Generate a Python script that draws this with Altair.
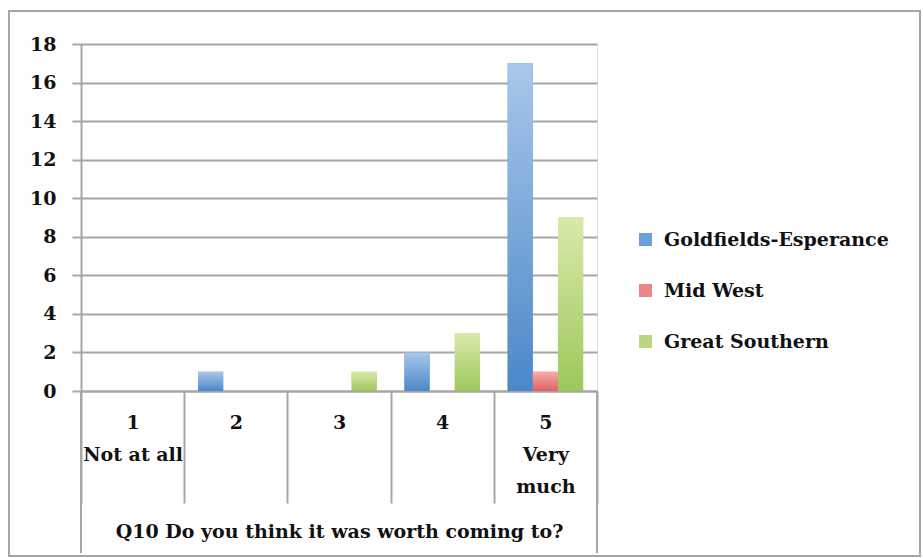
import altair as alt
import pandas as pd

categories = ["1|Not at all", "2", "3", "4", "5|Very|much"]
series = ["Goldfields-Esperance", "Mid West", "Great Southern"]
goldfields = [0, 1, 0, 2, 17]
mid_west = [0, 0, 0, 0, 1]
great_southern = [0, 0, 1, 3, 9]
y_ticks = [0, 2, 4, 6, 8, 10, 12, 14, 16, 18]
x_title = "Q10 Do you think it was worth coming to?"

solid = ["#6a9fd8", "#ec8585", "#b9d77e"]
grad_stops = [("#a9c7ea", "#4a88c8"), ("#f6abab", "#e06262"), ("#d9e9aa", "#9cc85b")]

rows = []
for s, vals in zip(series, [goldfields, mid_west, great_southern]):
    for c, v in zip(categories, vals):
        rows.append({"cat": c, "series": s, "value": v})
df = pd.DataFrame(rows)
df = df[df["value"] > 0]

FONT = "DejaVu Serif"
FS = 19
GRAY = "#a6a6a6"
TXT = "#111111"
W, H = 516, 347


def grad(top, bottom):
    return {"gradient": "linear", "x1": 0, "y1": 0, "x2": 0, "y2": 1,
            "stops": [{"offset": 0, "color": top}, {"offset": 1, "color": bottom}]}


x_scale = alt.Scale(domain=categories, paddingInner=0, paddingOuter=0)
x_axis = alt.Axis(
    title=x_title, tickBand="extent", tickSize=112, tickColor=GRAY, tickWidth=2,
    domainColor=GRAY, domainWidth=2, labelAngle=0,
    labelExpr="split(datum.label, '|')", labelLineHeight=32, labelPadding=-90,
    labelFont=FONT, labelFontSize=FS, labelFontWeight="bold", labelColor=TXT,
    labelBaseline="top",
    titleFont=FONT, titleFontSize=FS, titleFontWeight="bold", titleColor=TXT,
    titlePadding=18,
)
xo_scale = alt.Scale(domain=series, paddingInner=0, paddingOuter=0.55)
y_axis = alt.Axis(values=y_ticks, title=None, grid=True, gridColor=GRAY, gridWidth=2,
                  tickSize=9, tickColor=GRAY, tickWidth=2, domainColor=GRAY, domainWidth=2,
                  labelFont=FONT, labelFontSize=FS, labelFontWeight="bold",
                  labelColor=TXT, labelPadding=16)
y_scale = alt.Scale(domain=[0, 18])

base = alt.Chart(df)

bars_legend = base.mark_bar().encode(
    x=alt.X("cat:N", sort=categories, scale=x_scale, axis=x_axis),
    xOffset=alt.XOffset("series:N", sort=series, scale=xo_scale),
    y=alt.Y("value:Q", scale=y_scale, axis=y_axis),
    color=alt.Color("series:N", sort=series,
                    scale=alt.Scale(domain=series, range=solid),
                    legend=alt.Legend(title=None, orient="none", legendX=555, legendY=186,
                                      symbolType="square", symbolSize=170,
                                      symbolStrokeWidth=0, rowPadding=31,
                                      labelFont=FONT, labelFontSize=FS,
                                      labelFontWeight="bold", labelColor=TXT,
                                      labelOffset=9, labelLimit=0)),
)

bars_grad = base.mark_bar(strokeWidth=0).encode(
    x=alt.X("cat:N", sort=categories, scale=x_scale, axis=x_axis),
    xOffset=alt.XOffset("series:N", sort=series, scale=xo_scale),
    y=alt.Y("value:Q", scale=y_scale, axis=y_axis),
    fill={"condition": [
        {"test": "datum.series === 'Goldfields-Esperance'", "value": grad(*grad_stops[0])},
        {"test": "datum.series === 'Mid West'", "value": grad(*grad_stops[1])},
    ], "value": grad(*grad_stops[2])},
)

edge_df = pd.DataFrame({"cat": [categories[0], categories[-1]]})
left_rule = alt.Chart(edge_df.iloc[[0]]).mark_rule(color=GRAY, strokeWidth=2).encode(
    x=alt.X("cat:N", sort=categories, scale=x_scale, bandPosition=0, axis=x_axis),
    y=alt.value(H), y2=alt.value(H + 162),
)
right_rule = alt.Chart(edge_df.iloc[[1]]).mark_rule(color=GRAY, strokeWidth=2).encode(
    x=alt.X("cat:N", sort=categories, scale=x_scale, bandPosition=1, axis=x_axis),
    y=alt.value(H), y2=alt.value(H + 162),
)

frame = alt.Chart(pd.DataFrame({"k": [0]})).mark_rect(
    fill="white", fillOpacity=0, stroke=GRAY, strokeWidth=2
).encode(
    x=alt.value(-72), x2=alt.value(839), y=alt.value(-33), y2=alt.value(512),
)

chart = alt.layer(frame, bars_legend, bars_grad, left_rule, right_rule).properties(
    width=W, height=H,
    padding={"left": 8, "top": 10, "right": 0, "bottom": 0},
).configure_view(stroke=None).configure(background="white")

chart.save("out.html", embed_options={"renderer": "svg", "actions": False})
